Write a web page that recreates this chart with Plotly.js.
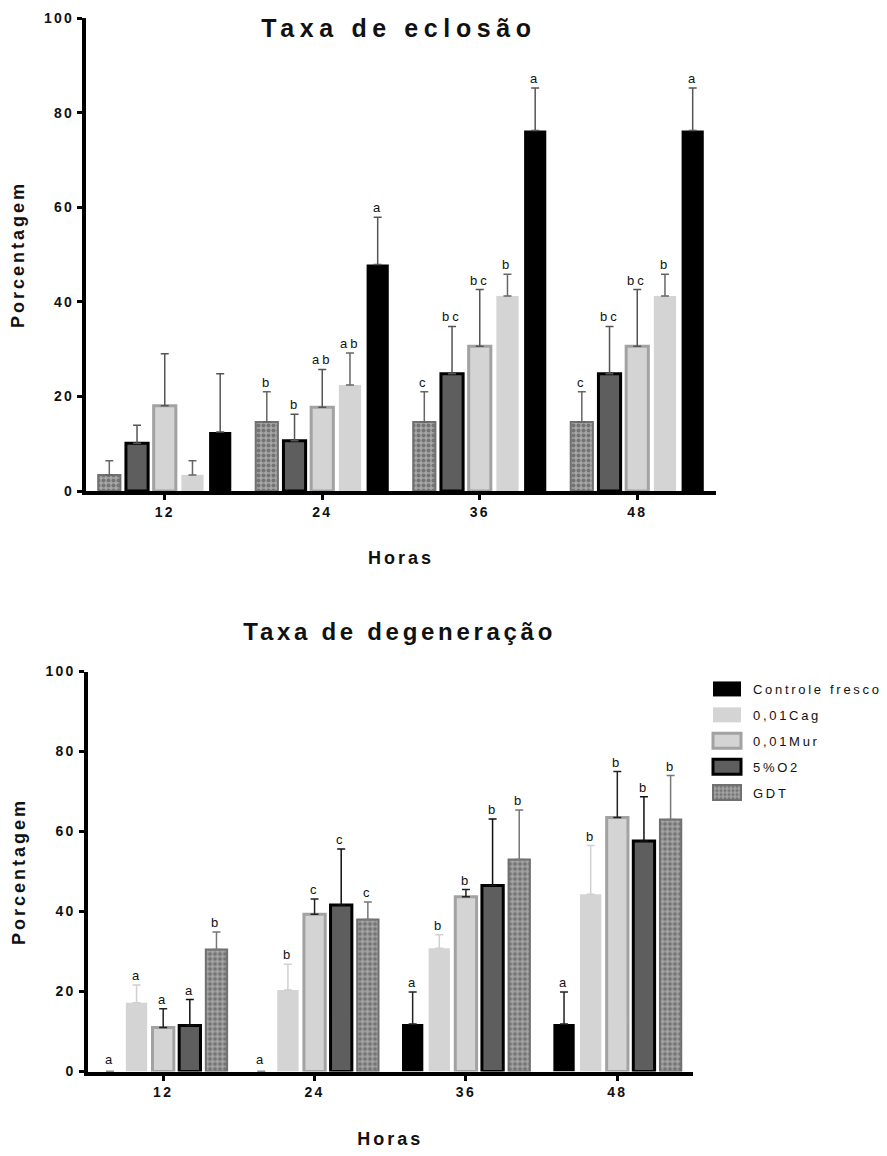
<!DOCTYPE html>
<html>
<head>
<meta charset="utf-8">
<script src="https://cdn.plot.ly/plotly-3.0.1.min.js"></script>
<style>
  html, body { margin: 0; padding: 0; background: #fff; }
  #chart { width: 887px; height: 1156px; }
  .gtitle { letter-spacing: 5.6px; }
  .annotation-text { letter-spacing: 3px; }
  .annotation[data-index="0"] .annotation-text { letter-spacing: 3.7px; }
  .xtitle, .ytitle, .x2title, .y2title { letter-spacing: 3px; }
  .xtick text, .ytick text, .x2tick text, .y2tick text { letter-spacing: 2.3px; }
  .legendtext { letter-spacing: 2.7px; }
</style>
</head>
<body>
<div id="chart"></div>
<script>
// ---------- data ----------
const hours = ['12', '24', '36', '48'];
const seriesNames = ['Controle fresco', '0,01Cag', '0,01Mur', '5%O2', 'GDT'];

// Taxa de eclosão (top chart): mean and SD (upper error only)
const eclControle = [12.5, 47.9, 76.2, 76.2];
const eclControleSD = [12.3, 10.0, 9.0, 9.0];
const eclCag = [3.4, 22.4, 41.2, 41.2];
const eclCagSD = [3.0, 6.8, 4.6, 4.6];
const eclMur = [18.0, 17.7, 30.6, 30.6];
const eclMurSD = [11.0, 8.0, 12.0, 12.0];
const eclO2 = [10.1, 10.6, 24.8, 24.8];
const eclO2SD = [3.8, 5.6, 10.0, 10.0];
const eclGDT = [3.4, 14.6, 14.6, 14.6];
const eclGDTSD = [3.0, 6.4, 6.4, 6.4];

const eclLetControle = ['', 'a', 'a', 'a'];
const eclLetCag = ['', 'ab', 'b', 'b'];
const eclLetMur = ['', 'ab', 'bc', 'bc'];
const eclLetO2 = ['', 'b', 'bc', 'bc'];
const eclLetGDT = ['', 'b', 'c', 'c'];

// Taxa de degeneração (bottom chart)
const degControle = [0, 0, 11.9, 11.9];
const degControleSD = [0, 0, 8.0, 8.0];
const degCag = [17.2, 20.4, 30.8, 44.3];
const degCagSD = [4.4, 6.4, 3.4, 12.2];
const degMur = [11.0, 39.3, 43.7, 63.5];
const degMurSD = [4.7, 3.8, 1.8, 11.5];
const degO2 = [11.5, 41.6, 46.5, 57.6];
const degO2SD = [6.5, 14.0, 16.6, 11.1];
const degGDT = [30.5, 38.0, 53.0, 63.0];
const degGDTSD = [4.4, 4.4, 12.4, 11.0];

const degLetControle = ['a', 'a', 'a', 'a'];
const degLetCag = ['a', 'b', 'b', 'b'];
const degLetMur = ['a', 'c', 'b', 'b'];
const degLetO2 = ['a', 'c', 'b', 'b'];
const degLetGDT = ['b', 'c', 'b', 'b'];

// ---------- styles ----------
const FONT = 'Liberation Sans, Arial, Helvetica, sans-serif';
const BARGAP = 0.12;
const styles = {
  'Controle fresco': { color: '#000000', line: { color: '#000000', width: 0 } },
  '0,01Cag': { color: '#d4d4d4', line: { color: '#d4d4d4', width: 0 } },
  '0,01Mur': { color: '#d4d4d4', line: { color: '#a2a2a2', width: 3 } },
  '5%O2': { color: '#5e5e5e', line: { color: '#000000', width: 3 } },
  'GDT': { color: '#a0a0a0', line: { color: '#707070', width: 2 },
           pattern: { shape: '.', bgcolor: '#a6a6a6', fgcolor: '#747474', size: 5, solidity: 0.5 } }
};

function barTrace(name, vals, sd, xa, ya, errColor, showlegend) {
  const st = styles[name];
  const marker = { color: st.color, line: st.line };
  if (st.pattern) marker.pattern = st.pattern;
  return {
    type: 'bar', name: name, x: hours, y: vals,
    xaxis: xa, yaxis: ya, marker: marker,
    showlegend: showlegend, legendgroup: showlegend ? name : undefined,
    error_y: { type: 'data', symmetric: false, array: sd, arrayminus: vals.map(() => 0),
               color: errColor, thickness: 1.5, width: 4 },
    hoverinfo: 'x+y+name'
  };
}

// Bottom chart (with legend) first in legend order
const bottomSeries = [
  ['Controle fresco', degControle, degControleSD, degLetControle, '#222222'],
  ['0,01Cag', degCag, degCagSD, degLetCag, '#d0d0d0'],
  ['0,01Mur', degMur, degMurSD, degLetMur, '#222222'],
  ['5%O2', degO2, degO2SD, degLetO2, '#111111'],
  ['GDT', degGDT, degGDTSD, degLetGDT, '#777777']
];
const topSeries = [
  ['GDT', eclGDT, eclGDTSD, eclLetGDT, '#666666'],
  ['5%O2', eclO2, eclO2SD, eclLetO2, '#555555'],
  ['0,01Mur', eclMur, eclMurSD, eclLetMur, '#555555'],
  ['0,01Cag', eclCag, eclCagSD, eclLetCag, '#666666'],
  ['Controle fresco', eclControle, eclControleSD, eclLetControle, '#555555']
];

const data = [];
bottomSeries.forEach(s => data.push(barTrace(s[0], s[1], s[2], 'x2', 'y2', s[4], true)));
topSeries.forEach(s => data.push(barTrace(s[0], s[1], s[2], 'x', 'y', s[4], false)));

// ---------- annotations ----------
const annotations = [{
  text: 'Taxa de degeneração', xref: 'paper', yref: 'paper',
  x: 399 / 887, y: 1 - 631 / 1156, xanchor: 'center', yanchor: 'middle',
  showarrow: false, font: { family: FONT, size: 24, color: '#111', weight: 'bold' }
}];
const slot = (1 - BARGAP) / 5;
function addLetters(series, xa, ya) {
  series.forEach((s, j) => {
    const vals = s[1], sd = s[2], lets = s[3];
    hours.forEach((h, i) => {
      if (!lets[i]) return;
      annotations.push({
        text: lets[i], xref: xa, yref: ya,
        x: i + (j - 2) * slot, y: vals[i] + sd[i],
        xanchor: 'center', yanchor: 'bottom', yshift: vals[i] + sd[i] === 0 ? 3 : 0,
        showarrow: false, font: { family: FONT, size: 13, color: '#111' }
      });
    });
  });
}
addLetters(topSeries, 'x', 'y');
addLetters(bottomSeries, 'x2', 'y2');

// ---------- axes ----------
function yAxis(domain, xanchor) {
  return {
    domain: domain, anchor: xanchor, range: [0, 100], tickvals: [0, 20, 40, 60, 80, 100],
    showgrid: false, zeroline: false, showline: true, linecolor: '#000', linewidth: 4,
    ticks: 'outside', ticklen: 5, tickwidth: 3, tickcolor: '#000',
    tickfont: { family: FONT, size: 14, color: '#111', weight: 'bold' },
    title: { text: 'Porcentagem', standoff: 16, font: { family: FONT, size: 18, color: '#111', weight: 'bold' } },
    fixedrange: true
  };
}
function xAxis(domain, yanchor) {
  return {
    domain: domain, anchor: yanchor, type: 'category', range: [-0.5, 3.5],
    showgrid: false, zeroline: false, showline: true, linecolor: '#000', linewidth: 4,
    ticks: 'outside', ticklen: 5, tickwidth: 3, tickcolor: '#000',
    tickfont: { family: FONT, size: 14, color: '#111', weight: 'bold' },
    title: { text: 'Horas', standoff: 34, font: { family: FONT, size: 18, color: '#111', weight: 'bold' } },
    fixedrange: true
  };
}

const layout = {
  width: 887, height: 1156,
  margin: { l: 0, r: 0, t: 0, b: 0 },
  paper_bgcolor: '#fff', plot_bgcolor: 'rgba(0,0,0,0)',
  font: { family: FONT, color: '#111' },
  barmode: 'group', bargap: BARGAP, bargroupgap: 0.2,
  title: {
    text: 'Taxa de eclosão', xref: 'paper', yref: 'paper',
    x: 399 / 887, y: 1 - 28 / 1156, xanchor: 'center', yanchor: 'middle',
    font: { family: FONT, size: 25, color: '#111', weight: 'bold' }
  },
  xaxis: xAxis([86 / 887, 716 / 887], 'y'),
  yaxis: yAxis([1 - 491 / 1156, 1 - 18 / 1156], 'x'),
  xaxis2: xAxis([87.5 / 887, 693 / 887], 'y2'),
  yaxis2: yAxis([1 - 1071.5 / 1156, 1 - 671.5 / 1156], 'x2'),
  showlegend: true,
  legend: {
    x: 707 / 887, y: 1 - 674 / 1156, xanchor: 'left', yanchor: 'top',
    traceorder: 'grouped', tracegroupgap: 6, bgcolor: 'rgba(0,0,0,0)',
    font: { family: FONT, size: 13, color: '#111' }
  },
  annotations: annotations
};

Plotly.newPlot('chart', data, layout, { displayModeBar: false }).then(() => {
  // widen the legend swatches to GraphPad-like rectangles and move text right
  document.querySelectorAll('.legendpoints path').forEach(p => {
    p.setAttribute('d', 'M14,7.5H-14V-7.5H14Z');
  });
  document.querySelectorAll('.legendtext').forEach(t => {
    t.setAttribute('x', 46);
  });
});
</script>
</body>
</html>
